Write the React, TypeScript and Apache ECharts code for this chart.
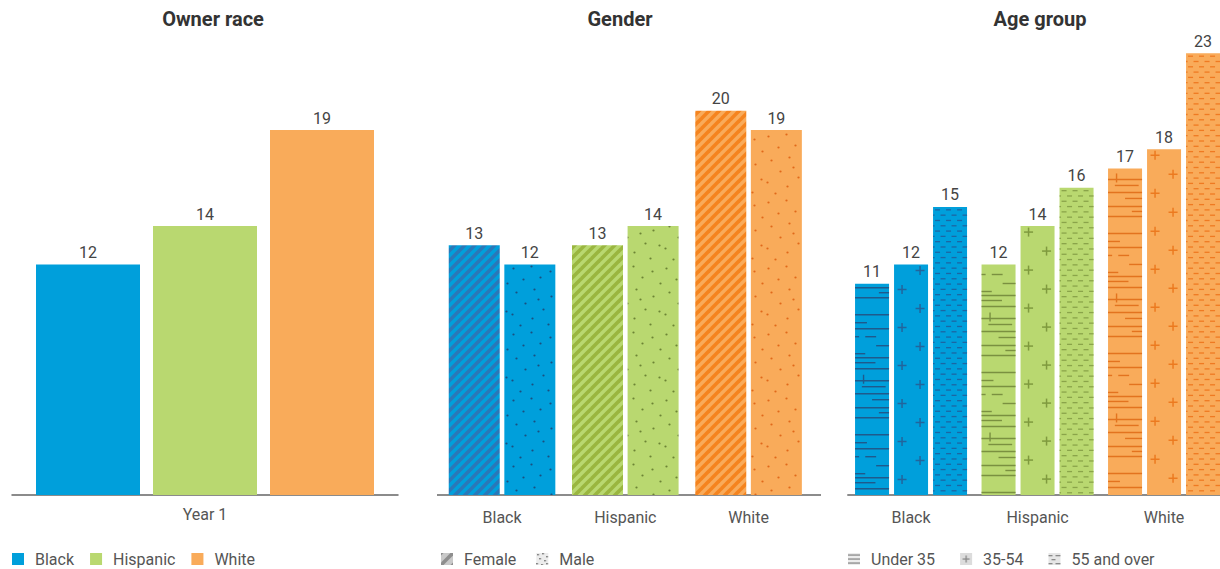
import React, { useEffect, useRef } from 'react';
import * as echarts from 'echarts';

// Owner race panel
const raceCategories = ['Year 1'];
const raceBlack = [12];
const raceHispanic = [14];
const raceWhite = [19];

// Gender and age panels share the race groups on their x axis
const groupCategories = ['Black', 'Hispanic', 'White'];
const genderFemale = [13, 13, 20];
const genderMale = [12, 14, 19];

const ageUnder35 = [11, 12, 17];
const age35to54 = [12, 14, 18];
const age55plus = [15, 16, 23];

const FONT = 'Roboto';
const BLUE = '#009fdb';
const GREEN = '#b9d870';
const ORANGE = '#f9ab5a';
const BASES = [BLUE, GREEN, ORANGE];

const STRIPE_DARK = ['#2a78b8', '#9ab63f', '#f5841f'];
const DOT_DARK = ['#1b4f80', '#6c8335', '#e0681a'];
const LINE_DARK = ['#1f5a8c', '#7a9040', '#e3731f'];
const PLUS_DARK = ['#22659c', '#7f9a3e', '#ec7a20'];
const DASH_DARK = ['#1c66a3', '#8aa44a', '#ef7a22'];

function makeCanvas(w: number, h: number, draw: (ctx: CanvasRenderingContext2D) => void) {
  const c = document.createElement('canvas');
  c.width = w;
  c.height = h;
  const ctx = c.getContext('2d')!;
  draw(ctx);
  return c;
}

function toPattern(c: HTMLCanvasElement) {
  return { image: c, repeat: 'repeat', imageWidth: c.width, imageHeight: c.height };
}

function drawStripes(ctx: CanvasRenderingContext2D, base: string, dark: string, size: number) {
  ctx.fillStyle = base;
  ctx.fillRect(0, 0, size, size);
  ctx.strokeStyle = dark;
  ctx.lineWidth = 3.6;
  for (const c of [0, size, 2 * size]) {
    ctx.beginPath();
    ctx.moveTo(c + 4, -4);
    ctx.lineTo(c - size - 4, size + 4);
    ctx.stroke();
  }
}

function stripeTile(base: string, dark: string) {
  return makeCanvas(10, 10, (ctx) => drawStripes(ctx, base, dark, 10));
}

// fixed scatter of speckles for the "Male" fill
const SPECKLES = [
  [3, 4], [21, 2], [40, 7], [48, 19], [13, 15], [30, 13], [6, 28], [24, 25],
  [41, 32], [15, 39], [33, 45], [2, 50], [47, 47], [22, 54], [10, 61], [38, 60], [28, 35],
];

function dotTile(base: string, dark: string) {
  return makeCanvas(51, 66, (ctx) => {
    ctx.fillStyle = base;
    ctx.fillRect(0, 0, 51, 66);
    ctx.fillStyle = dark;
    for (const [x, y] of SPECKLES) {
      ctx.beginPath();
      ctx.arc(x + 0.5, y + 0.5, 1.1, 0, Math.PI * 2);
      ctx.fill();
    }
  });
}

// legend swatches: 12x12 square followed by transparent room before the label
function swatch(draw: (ctx: CanvasRenderingContext2D) => void) {
  const c = makeCanvas(18, 12, (ctx) => {
    ctx.save();
    ctx.beginPath();
    ctx.rect(0, 0, 12, 12);
    ctx.clip();
    draw(ctx);
    ctx.restore();
  });
  return 'image://' + c.toDataURL();
}

// hand-placed rules for the "Under 35" fill, repeated every 120px: [y, from, to] as fractions of the bar width
const U35_TILE = 120;
const U35_H = [
  [4, 0, 1], [9, 0.7, 1], [14, 0, 1], [31, 0, 1], [39, 0, 0.35], [45, 0, 1],
  [53, 0, 0.12], [53, 0.3, 0.62], [62, 0.62, 1], [70, 0, 0.3], [74, 0, 1], [79, 0, 0.6],
  [85, 0, 1], [97, 0, 1], [103, 0.2, 0.9], [110, 0, 1], [116, 0.5, 1],
];
const U35_V = [[0.25, 91, 100]];

const AGE_BAR_W = 34;
const AGE_BAR_GAP = 5;

function ageRenderer(pos: number, kind: 'lines' | 'plus' | 'dash') {
  return (params: any, api: any) => {
    const cat = api.value(0) as number;
    const val = api.value(1) as number;
    const base = api.coord([cat, 0]);
    const topPt = api.coord([cat, val]);
    const total = 3 * AGE_BAR_W + 2 * AGE_BAR_GAP;
    const x = base[0] - total / 2 + pos * (AGE_BAR_W + AGE_BAR_GAP);
    const y = topPt[1];
    const bottom = base[1];
    const w = AGE_BAR_W;
    const children: any[] = [
      { type: 'rect', shape: { x, y, width: w, height: bottom - y }, style: { fill: BASES[cat] } },
    ];
    const seg = (x1: number, y1: number, x2: number, y2: number, color: string, lw = 1.4) =>
      children.push({ type: 'line', shape: { x1, y1, x2, y2 }, style: { stroke: color, lineWidth: lw } });

    if (kind === 'lines') {
      const offset = (cat * 43) % U35_TILE;
      for (let t = y - offset; t < bottom; t += U35_TILE) {
        for (const [ly, f0, f1] of U35_H) {
          const yy = t + ly;
          if (yy > y + 2 && yy < bottom - 1) seg(x + f0 * w, yy, x + f1 * w, yy, LINE_DARK[cat]);
        }
        for (const [fx, y0, y1] of U35_V) {
          const a = t + y0;
          const b = t + y1;
          if (a > y + 2 && b < bottom - 1) seg(x + fx * w, a, x + fx * w, b, LINE_DARK[cat]);
        }
      }
    } else if (kind === 'plus') {
      const startCol = cat === 0 ? 1 : 0;
      for (let i = 0; ; i++) {
        const cy = y + 6 + i * 19;
        if (cy > bottom - 4) break;
        const cx = x + ((startCol + i) % 2 ? 26 : 8);
        seg(cx - 4.5, cy, cx + 4.5, cy, PLUS_DARK[cat], 1.5);
        seg(cx, cy - 4.5, cx, cy + 4.5, PLUS_DARK[cat], 1.5);
      }
    } else {
      for (let r = 0; ; r++) {
        const yy = y + 3 + r * 5.3;
        if (yy > bottom - 1) break;
        const shift = r % 2 ? 5.5 : 0;
        for (let xx = x + 2 + shift - 11; xx < x + w; xx += 11) {
          const a = Math.max(xx, x);
          const b = Math.min(xx + 5, x + w);
          if (b - a > 1) seg(a, yy, b, yy, DASH_DARK[cat], 1.3);
        }
      }
    }

    children.push({
      type: 'text',
      x: x + w / 2,
      y: y - 4,
      style: { text: String(val), fill: '#444', fontSize: 16, fontFamily: FONT, align: 'center', verticalAlign: 'bottom' },
    });
    return { type: 'group', children };
  };
}

const App: React.FC = () => {
  const ref = useRef<HTMLDivElement>(null);

  useEffect(() => {
    if (!ref.current) return;
    const chart = echarts.init(ref.current, undefined, { renderer: 'svg' });

    const valueLabel = { show: true, position: 'top', distance: 4, fontSize: 16, color: '#444', fontFamily: FONT };
    const axisLabel = { fontSize: 16, color: '#555', fontFamily: FONT, margin: 14 };
    const axisLine = { show: true, lineStyle: { color: '#666', width: 1.5 } };

    const femaleData = genderFemale.map((v, i) => ({
      value: v,
      itemStyle: { color: toPattern(stripeTile(BASES[i], STRIPE_DARK[i])) },
    }));
    const maleData = genderMale.map((v, i) => ({
      value: v,
      itemStyle: { color: toPattern(dotTile(BASES[i], DOT_DARK[i])) },
    }));

    const solidIcon = (col: string) => swatch((ctx) => { ctx.fillStyle = col; ctx.fillRect(0, 0, 12, 12); });
    const femaleIcon = swatch((ctx) => drawStripes(ctx, '#c9c9c9', '#8e8e8e', 12));
    const maleIcon = swatch((ctx) => {
      ctx.fillStyle = '#ececec';
      ctx.fillRect(0, 0, 12, 12);
      ctx.fillStyle = '#555';
      for (const [dx, dy] of [[1, 1], [6, 0], [10, 3], [3, 5], [8, 7], [0, 10], [5, 11], [10, 10]]) ctx.fillRect(dx, dy, 1.4, 1.4);
    });
    const under35Icon = swatch((ctx) => {
      ctx.fillStyle = '#ececec';
      ctx.fillRect(0, 0, 12, 12);
      ctx.fillStyle = '#8a8a8a';
      for (const yy of [2, 6, 10]) ctx.fillRect(0, yy - 0.6, 12, 1.3);
    });
    const midIcon = swatch((ctx) => {
      ctx.fillStyle = '#dcdcdc';
      ctx.fillRect(0, 0, 12, 12);
      ctx.fillStyle = '#8a8a8a';
      ctx.fillRect(2.5, 5.4, 7, 1.3);
      ctx.fillRect(5.4, 2.5, 1.3, 7);
    });
    const olderIcon = swatch((ctx) => {
      ctx.fillStyle = '#e6e6e6';
      ctx.fillRect(0, 0, 12, 12);
      ctx.fillStyle = '#8a8a8a';
      ctx.fillRect(0, 2, 4, 1.3);
      ctx.fillRect(7, 2, 5, 1.3);
      ctx.fillRect(3, 6, 4, 1.3);
      ctx.fillRect(0, 10, 4, 1.3);
      ctx.fillRect(7, 10, 5, 1.3);
    });

    const legendText = { fontSize: 16, color: '#555', fontFamily: FONT };
    const legendBase = { top: 551, padding: 0, itemWidth: 18, itemHeight: 12, itemGap: 20, textStyle: legendText, selectedMode: false };
    const titleStyle = { fontSize: 20, fontWeight: 'bold', color: '#333', fontFamily: FONT };

    const option: any = {
      animation: false,
      backgroundColor: '#fff',
      title: [
        { text: 'Owner race', left: 213, top: 9, padding: 0, textAlign: 'center', textStyle: titleStyle },
        { text: 'Gender', left: 620, top: 9, padding: 0, textAlign: 'center', textStyle: titleStyle },
        { text: 'Age group', left: 1040, top: 9, padding: 0, textAlign: 'center', textStyle: titleStyle },
      ],
      legend: [
        {
          ...legendBase, left: 12, itemGap: 16,
          data: [
            { name: 'Black', icon: solidIcon(BLUE) },
            { name: 'Hispanic', icon: solidIcon(GREEN) },
            { name: 'White', icon: solidIcon(ORANGE) },
          ],
        },
        {
          ...legendBase, left: 441,
          data: [{ name: 'Female', icon: femaleIcon }, { name: 'Male', icon: maleIcon }],
        },
        {
          ...legendBase, left: 848, itemGap: 25,
          data: [
            { name: 'Under 35', icon: under35Icon },
            { name: '35-54', icon: midIcon },
            { name: '55 and over', icon: olderIcon },
          ],
        },
      ],
      grid: [
        { left: 12, width: 386, top: 34, height: 461 },
        { left: 440.4, width: 369.8, top: 34, height: 461 },
        { left: 847.8, width: 379.5, top: 34, height: 461 },
      ],
      xAxis: [
        { type: 'category', gridIndex: 0, data: raceCategories, axisTick: { show: false }, axisLine, axisLabel: { ...axisLabel, margin: 11 } },
        { type: 'category', gridIndex: 1, data: groupCategories, axisTick: { show: false }, axisLine: { show: false }, axisLabel },
        { type: 'category', gridIndex: 2, data: groupCategories, axisTick: { show: false }, axisLine, axisLabel },
      ],
      yAxis: [0, 1, 2].map((g) => ({ type: 'value', gridIndex: g, min: 0, max: 24, show: false, splitLine: { show: false } })),
      graphic: [
        { type: 'line', shape: { x1: 437, y1: 495, x2: 821, y2: 495 }, style: { stroke: '#666', lineWidth: 1.5 }, silent: true },
      ],
      series: [
        { name: 'Black', type: 'bar', xAxisIndex: 0, yAxisIndex: 0, data: raceBlack, barWidth: 104, barGap: '12.5%', itemStyle: { color: BLUE }, label: valueLabel },
        { name: 'Hispanic', type: 'bar', xAxisIndex: 0, yAxisIndex: 0, data: raceHispanic, barWidth: 104, barGap: '12.5%', itemStyle: { color: GREEN }, label: valueLabel },
        { name: 'White', type: 'bar', xAxisIndex: 0, yAxisIndex: 0, data: raceWhite, barWidth: 104, barGap: '12.5%', itemStyle: { color: ORANGE }, label: valueLabel },
        { name: 'Female', type: 'bar', xAxisIndex: 1, yAxisIndex: 1, data: femaleData, barWidth: 51, barGap: '9%', itemStyle: { color: '#aaa' }, label: valueLabel },
        { name: 'Male', type: 'bar', xAxisIndex: 1, yAxisIndex: 1, data: maleData, barWidth: 51, barGap: '9%', itemStyle: { color: '#ddd' }, label: valueLabel },
        {
          name: 'Under 35', type: 'custom', xAxisIndex: 2, yAxisIndex: 2,
          renderItem: ageRenderer(0, 'lines'), encode: { x: 0, y: 1 },
          data: ageUnder35.map((v, i) => [i, v]), itemStyle: { color: '#ccc' },
        },
        {
          name: '35-54', type: 'custom', xAxisIndex: 2, yAxisIndex: 2,
          renderItem: ageRenderer(1, 'plus'), encode: { x: 0, y: 1 },
          data: age35to54.map((v, i) => [i, v]), itemStyle: { color: '#ccc' },
        },
        {
          name: '55 and over', type: 'custom', xAxisIndex: 2, yAxisIndex: 2,
          renderItem: ageRenderer(2, 'dash'), encode: { x: 0, y: 1 },
          data: age55plus.map((v, i) => [i, v]), itemStyle: { color: '#ccc' },
        },
      ],
    };

    chart.setOption(option);
    return () => chart.dispose();
  }, []);

  // the drawing surface runs a little past the right edge so the last group keeps its full band
  return <div ref={ref} style={{ position: 'fixed', left: 0, top: 0, width: 1240, height: 569 }} />;
};

export default App;
